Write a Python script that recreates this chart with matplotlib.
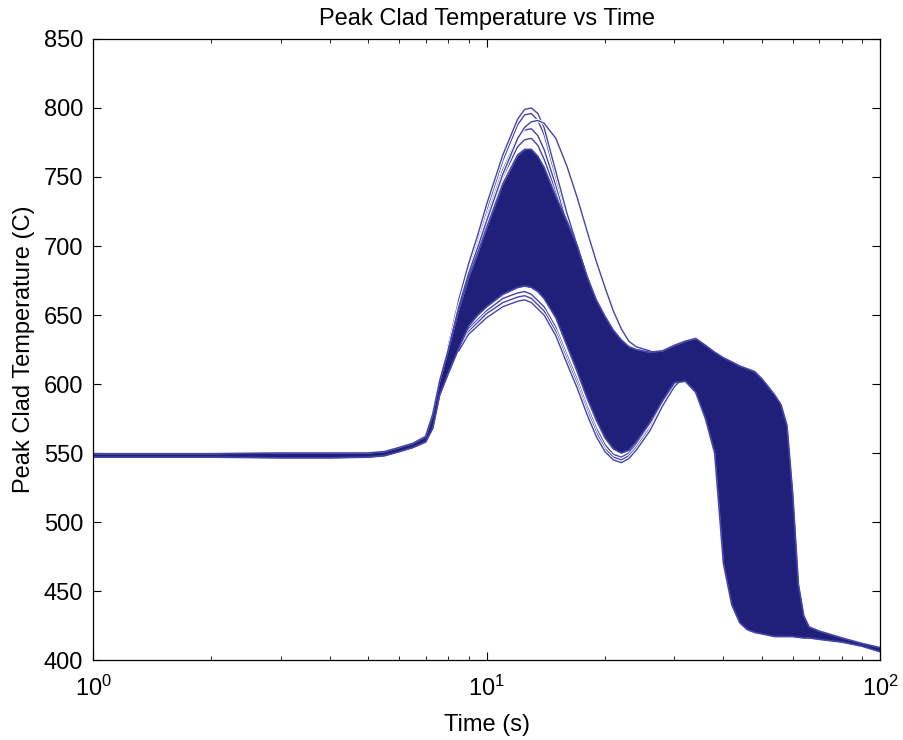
import matplotlib.pyplot as plt
from matplotlib.ticker import LogLocator, MultipleLocator
import matplotlib.patheffects as pe

plt.rcParams['font.family'] = ['Liberation Sans', 'DejaVu Sans']
plt.rcParams['mathtext.fontset'] = 'custom'
plt.rcParams['mathtext.rm'] = 'Liberation Sans'

# time grid for the band envelopes (s)
t_band = [1, 2, 3, 4, 5, 5.5, 6, 6.5, 7, 7.3, 7.6, 8, 8.5, 9, 9.5, 10, 11, 12,
          12.5, 13, 13.5, 14, 15, 16, 17, 18, 19, 20, 21, 22, 23, 24, 26, 28,
          30, 32, 34, 36, 38, 40, 42, 44, 46, 48, 50, 52, 54, 56, 58, 60, 62,
          64, 66, 70, 80, 90, 100]
# top edge of the dense bundle of runs (C)
band_upper = [549.5, 549.5, 550, 550, 550, 551, 554, 557, 562, 578, 602, 625,
              654, 677, 695, 713, 745, 766, 770, 770, 765, 757, 736, 718, 700,
              678, 661, 649, 639, 632, 627, 625, 623, 624, 628, 631, 633, 628,
              623, 619, 616, 613, 611, 609, 604, 598, 592, 585, 570, 520, 455,
              432, 424, 421, 416, 412, 409]
# bottom edge of the dense bundle (C)
band_lower = [547, 547, 546.5, 546.5, 547, 548, 551, 554, 558, 568, 592, 608,
              626, 642, 650, 656, 665, 670, 671, 670, 667, 662, 648, 628, 609,
              590, 574, 561, 553, 550, 552, 558, 572, 588, 601, 602, 594, 575,
              550, 470, 440, 427, 422, 420, 419, 418, 417, 417, 417, 417,
              416.5, 416, 416, 415, 413, 410, 406]

# hottest runs around the first peak
t_peak = [8, 8.5, 9, 9.5, 10, 11, 12, 12.5, 13, 13.5, 14, 15, 16, 17, 18, 19, 20]
run_800 = [628, 661, 687, 708, 730, 766, 792, 799, 800, 796, 786, 754, 724, 700, 678, 659, 645]
run_796 = [627, 659, 684, 705, 726, 762, 788, 795, 796, 791, 781, 750, 722, 698, 677, 658, 644]
run_785 = [626, 657, 681, 701, 721, 755, 779, 784, 785, 780, 770, 744, 717, 695, 676, 657, 643]
run_778 = [626, 656, 679, 698, 717, 750, 772, 777, 778, 773, 763, 740, 714, 693, 675, 656, 642]

# slow-cooling run on the right of the peak
t_late = [8, 8.5, 9, 9.5, 10, 11, 12, 12.5, 13, 13.5, 14, 15, 16, 17, 18, 19,
          20, 21, 22, 23, 24, 26, 28]
run_late = [625, 656, 680, 699, 718, 752, 778, 786, 790, 791, 789, 778, 758,
            735, 711, 689, 670, 653, 640, 631, 627, 624, 620]

# coolest runs
t_low = [8.5, 9, 10, 11, 12, 12.5, 13, 14, 15, 16, 17, 18, 19, 20, 21, 22, 23,
         24, 26, 28, 30, 32]
run_low1 = [624, 636, 648, 656, 660, 661, 659, 650, 635, 615, 597, 578, 562,
            551, 545, 543, 546, 552, 566, 584, 598, 606]
run_low2 = [625, 638, 651, 659, 663, 664, 662, 653, 638, 618, 600, 581, 565,
            553, 547, 545, 548, 554, 568, 585, 599, 607]
run_low3 = [626, 640, 653, 662, 666, 667, 665, 656, 641, 621, 603, 584, 568,
            556, 549, 547, 550, 556, 569, 586, 600, 608]

fill_color = '#20207a'
line_color = '#4444aa'

fig = plt.figure(figsize=(9.04, 7.40), dpi=100)
ax = fig.add_axes([0.1029, 0.1081, 0.8706, 0.8392])

# single runs first, the dense bundle is painted over them
halo = [pe.Stroke(linewidth=2.4, foreground='white'), pe.Normal()]
for run in [run_778, run_785, run_796, run_800]:
    ax.plot(t_peak, run, color=line_color, lw=1, path_effects=halo, zorder=2)
ax.plot(t_late, run_late, color=line_color, lw=1, path_effects=halo, zorder=2)
for run in [run_low3, run_low2, run_low1]:
    ax.plot(t_low, run, color=line_color, lw=1, path_effects=halo, zorder=2)

ax.fill_between(t_band, band_lower, band_upper, color=fill_color, lw=0, zorder=3)
ax.plot(t_band, band_upper, color=line_color, lw=1.2, zorder=4)
ax.plot(t_band, band_lower, color=line_color, lw=1.2, zorder=4)

ax.set_xscale('log')
ax.set_xlim(1, 100)
ax.set_ylim(400, 850)
ax.yaxis.set_major_locator(MultipleLocator(50))
ax.xaxis.set_minor_locator(LogLocator(base=10, subs=range(2, 10)))

ax.tick_params(which='both', direction='in', top=True, right=True,
               labelsize=17, colors='black')
ax.tick_params(axis='x', which='major', length=6, pad=11)
ax.tick_params(axis='y', which='major', length=6, pad=7)
ax.tick_params(which='minor', length=3)
for s in ax.spines.values():
    s.set_linewidth(0.9)
    s.set_zorder(5)

ax.set_title('Peak Clad Temperature vs Time', fontsize=17, pad=10)
ax.set_xlabel('Time (s)', fontsize=17, labelpad=10)
ax.set_ylabel('Peak Clad Temperature (C)', fontsize=17, labelpad=6)

fig.savefig('out.png', dpi=100)
